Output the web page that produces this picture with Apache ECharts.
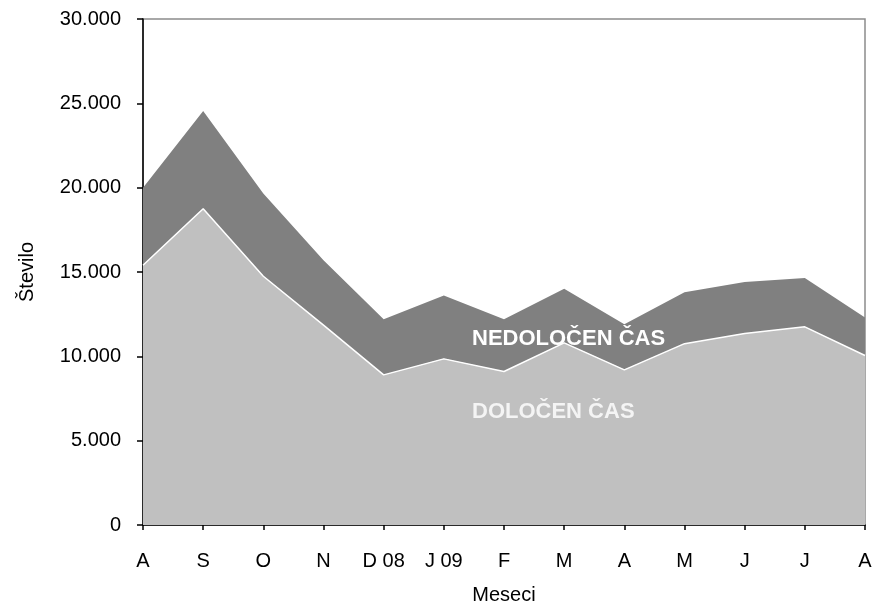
<!DOCTYPE html>
<html>
<head>
<meta charset="utf-8">
<script src="https://cdn.jsdelivr.net/npm/echarts@6/dist/echarts.min.js"></script>
<style>
  html, body { margin: 0; padding: 0; background: #fff; }
  #chart { width: 877px; height: 610px; }
</style>
</head>
<body>
<div id="chart"></div>
<script>
// months Aug 2008 - Aug 2009
var months = ['A', 'S', 'O', 'N', 'D 08', 'J 09', 'F', 'M', 'A', 'M', 'J', 'J', 'A'];
// fixed-term (lower band)
var dolocen = [15400, 18750, 14750, 11850, 8900, 9850, 9100, 10800, 9200, 10750, 11350, 11750, 10050];
// permanent (stacked on top)
var nedolocen = [4600, 5800, 4900, 3850, 3300, 3750, 3100, 3200, 2700, 3050, 3050, 2900, 2250];

var font = 'Liberation Sans, Arial, sans-serif';

function fmt(v) {
    return String(v).replace(/\B(?=(\d{3})+(?!\d))/g, '.');
}

var myChart = echarts.init(document.getElementById('chart'));

var option = {
    animation: false,
    grid: {
        left: 143, right: 12, top: 19, bottom: 82,
        show: true,
        borderColor: '#8c8c8c',
        borderWidth: 1.5
    },
    xAxis: {
        type: 'category',
        data: months,
        boundaryGap: false,
        name: 'Meseci',
        nameLocation: 'middle',
        nameGap: 60,
        nameTextStyle: { fontFamily: font, fontSize: 20, color: '#000' },
        axisLine: { lineStyle: { color: '#000', width: 1.5 } },
        axisTick: { length: 5, lineStyle: { color: '#000', width: 1.5 }, alignWithLabel: true },
        axisLabel: { fontFamily: font, fontSize: 20, color: '#000', margin: 26 },
        splitLine: { show: false }
    },
    yAxis: {
        type: 'value',
        min: 0,
        max: 30000,
        interval: 5000,
        name: 'Število',
        nameLocation: 'middle',
        nameGap: 106,
        nameTextStyle: { fontFamily: font, fontSize: 20, color: '#000' },
        axisLine: { show: true, lineStyle: { color: '#000', width: 1.5 } },
        axisTick: { show: true, length: 6, lineStyle: { color: '#000', width: 1.5 } },
        axisLabel: { fontFamily: font, fontSize: 20, color: '#000', margin: 22, formatter: fmt },
        splitLine: { show: false }
    },
    series: [
        {
            name: 'DOLOČEN ČAS',
            type: 'line',
            stack: 'total',
            symbol: 'none',
            z: 3,
            lineStyle: { color: '#ffffff', width: 1.5 },
            areaStyle: { color: '#c0c0c0', opacity: 1 },
            data: dolocen
        },
        {
            name: 'NEDOLOČEN ČAS',
            type: 'line',
            stack: 'total',
            symbol: 'none',
            z: 2,
            lineStyle: { width: 0 },
            areaStyle: { color: '#808080', opacity: 1 },
            data: nedolocen
        }
    ],
    graphic: [
        {
            type: 'text', left: 472, top: 328, z: 10,
            style: { text: 'NEDOLOČEN ČAS', fill: '#fff', font: 'bold 22px ' + font }
        },
        {
            type: 'text', left: 472, top: 401, z: 10,
            style: { text: 'DOLOČEN ČAS', fill: '#f4f4f4', font: 'bold 22px ' + font }
        }
    ]
};

option && myChart.setOption(option);
</script>
</body>
</html>
